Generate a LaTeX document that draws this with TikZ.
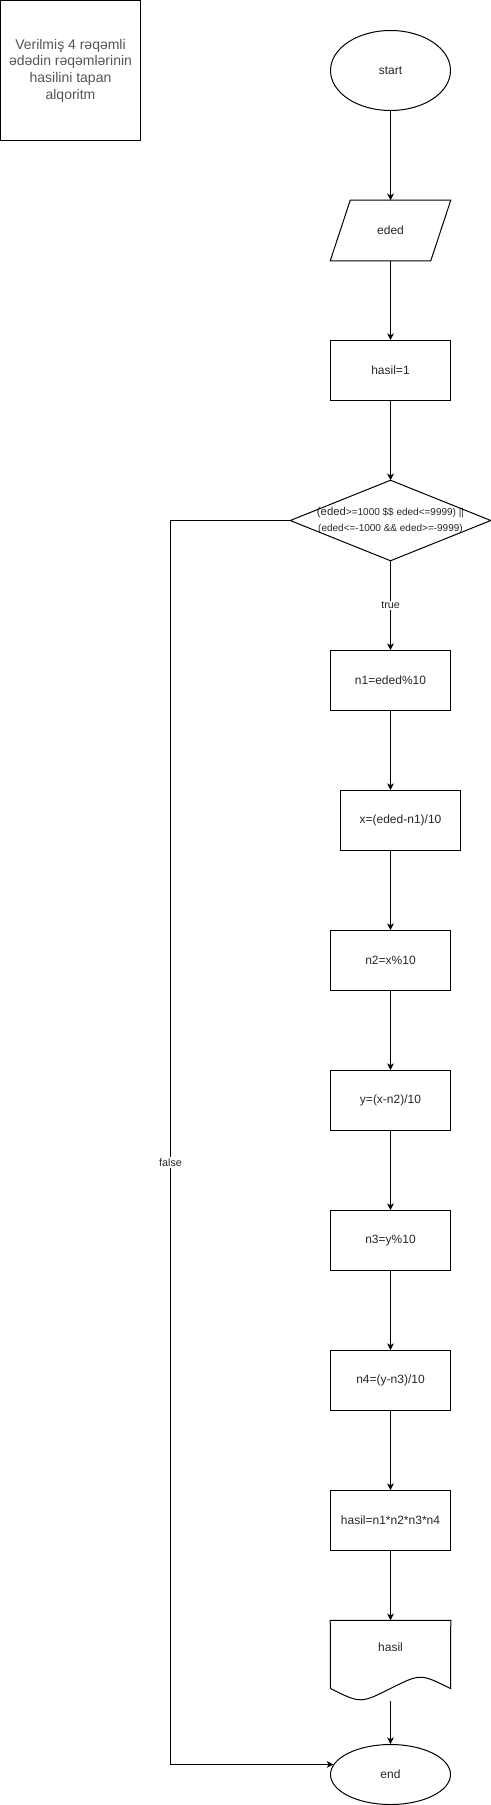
\documentclass[tikz,border=0pt]{standalone}
\usepackage{fontspec}
\setmainfont{Liberation Sans}
\usetikzlibrary{shapes.geometric,arrows.meta}
\definecolor{titlegray}{RGB}{85,85,85}

\begin{document}
\begin{tikzpicture}[
            x=0.75pt, y=-0.75pt,
            every node/.style={font=\fontsize{9}{11}\selectfont, text=black!85},
            box/.style={rectangle, draw, line width=0.75pt, minimum width=90pt, minimum height=45pt, inner sep=0pt},
            term/.style={ellipse, draw, line width=0.75pt, minimum width=90pt, inner sep=0pt},
            ghost/.style={rectangle, minimum width=90pt, minimum height=45pt, inner sep=0pt},
            lbl/.style={fill=white, inner sep=1pt, font=\fontsize{8}{10}\selectfont},
            arr/.style={-{Stealth[length=5pt, width=5pt, inset=1.5pt]}, line width=0.75pt}
        ]
        \useasboundingbox (-0.5,-0.5) rectangle (490.5,1804.5);

        \node[box, minimum width=105pt, minimum height=105pt, align=center, text=titlegray,
              font=\fontsize{10.5}{12.5}\selectfont] (title) at (70,70)
              {Verilmiş 4 rəqəmli\\ədədin rəqəmlərinin\\hasilini tapan\\alqoritm};

        \node[term, minimum height=60pt] (start) at (390,70) {start};
        \node[ghost] (eded) at (390,230) {eded};
        \node[box] (init) at (390,370) {hasil=1};
        \node[ghost, minimum width=150pt, minimum height=60pt, align=center,
              font=\fontsize{7.5}{12}\selectfont] (cond) at (390,520)
              {{\fontsize{8.5}{12}\selectfont(eded}>=1000 \$\$ eded<=9999) ||\\(eded<=-1000 \&\& eded>=-9999)};
        \node[box] (n1) at (390,680) {n1=eded\%10};
        \node[box] (xb) at (400,820) {x=(eded-n1)/10};
        \node[box] (n2) at (390,960) {n2=x\%10};
        \node[box] (yb) at (390,1100) {y=(x-n2)/10};
        \node[box] (n3) at (390,1240) {n3=y\%10};
        \node[box] (n4) at (390,1380) {n4=(y-n3)/10};
        \node[box] (prod) at (390,1520) {hasil=n1*n2*n3*n4};
        \node[ghost, minimum height=60pt] (out) at (390,1660) {\raisebox{6.5pt}[0pt][0pt]{hasil}};
        \node[term, minimum height=45pt] (end) at (390,1774) {end};

        % shapes drawn by hand
        \draw[line width=0.75pt] ([xshift=15pt]eded.north west) -- (eded.north east)
            -- ([xshift=-15pt]eded.south east) -- (eded.south west) -- cycle;
        \draw[line width=0.75pt] (cond.north) -- (cond.east) -- (cond.south) -- (cond.west) -- cycle;
        \draw[line width=0.75pt] (330,1688) -- (out.north west) -- (out.north east) -- (450,1688)
            .. controls (420,1673) .. (390,1688) .. controls (360,1703) .. (330,1688);

        \draw[arr] (start) -- (eded);
        \draw[arr] (eded) -- (init);
        \draw[arr] (init) -- (cond);
        \draw[arr] (cond) -- node[lbl] (tlab) {true} (n1);
        \draw[arr] (n1) -- (n1 |- xb.north);
        \draw[arr] (xb.south -| n2) -- (n2);
        \draw[arr] (n2) -- (yb);
        \draw[arr] (yb) -- (n3);
        \draw[arr] (n3) -- (n4);
        \draw[arr] (n4) -- (prod);
        \draw[arr] (prod) -- (out);
        \draw[arr] (out) -- (end);

        \coordinate (fbend) at (170,1160);
        \draw[arr] (cond.west) -| (fbend) |- (end.170);
        \node[lbl] (flab) at (170,1162) {false};

    \end{tikzpicture}
\end{document}
